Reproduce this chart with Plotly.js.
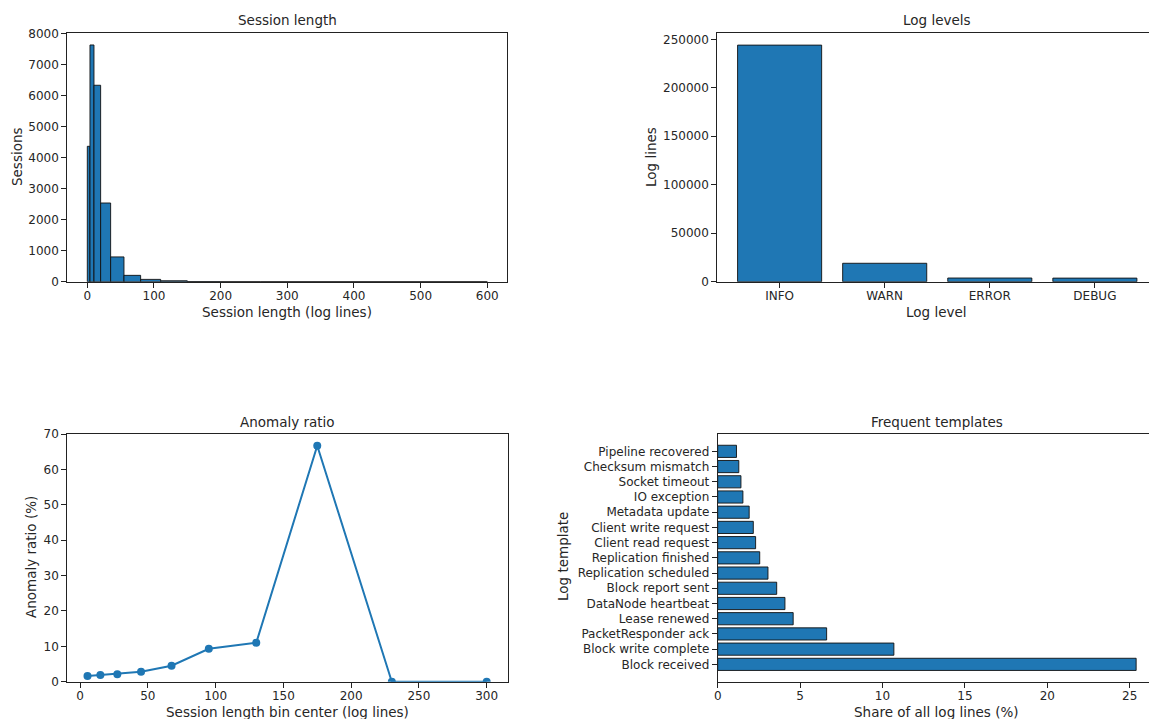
<!DOCTYPE html>
<html>
<head>
<meta charset="utf-8">
<script src="https://cdn.plot.ly/plotly-3.0.1.min.js"></script>
<style>html,body{margin:0;padding:0;background:#fff;}#chart{width:1149px;height:719px;}</style>
</head>
<body>
<div id="chart"></div>
<script>
// ---- Data ----
const sessionBinEdges = [0, 4, 10, 20, 35, 55, 80, 110, 150, 200, 260, 340, 600];
const sessionCounts = [4370, 7640, 6340, 2540, 800, 205, 75, 30, 4, 2, 1, 1];

const logLevels = ["INFO", "WARN", "ERROR", "DEBUG"];
const logLevelCounts = [244000, 19000, 3800, 3700];

const binCenters = [5.5, 15, 27.5, 45, 67.5, 95, 130, 175, 230, 300];
const anomalyPct = [1.6, 1.9, 2.1, 2.8, 4.5, 9.3, 11.0, 66.7, 0, 0];

const templates = ["Block received", "Block write complete", "PacketResponder ack", "Lease renewed",
  "DataNode heartbeat", "Block report sent", "Replication scheduled", "Replication finished",
  "Client read request", "Client write request", "Metadata update", "IO exception",
  "Socket timeout", "Checksum mismatch", "Pipeline recovered"];
const templateShare = [25.39, 10.69, 6.61, 4.58, 4.08, 3.58, 3.05, 2.55, 2.30, 2.16, 1.91, 1.53, 1.41, 1.28, 1.14];

// ---- Styling ----
const W = 1149, H = 719;
const BLUE = "#1f77b4";
const FONT = "DejaVu Sans";
const TXT = "#262626";
const tickFont = {family: FONT, size: 12, color: TXT};
const px = v => v / W;
const py = v => 1 - v / H;

const histCenters = sessionCounts.map((_, i) => (sessionBinEdges[i] + sessionBinEdges[i + 1]) / 2);
const histWidths = sessionCounts.map((_, i) => sessionBinEdges[i + 1] - sessionBinEdges[i]);

const traces = [
  {type: "bar", x: histCenters, y: sessionCounts, width: histWidths, xaxis: "x", yaxis: "y",
   marker: {color: BLUE, line: {color: "#111", width: 0.9}}, hoverinfo: "x+y"},
  {type: "bar", x: logLevels, y: logLevelCounts, width: 0.8, xaxis: "x2", yaxis: "y2",
   marker: {color: BLUE, line: {color: "#111", width: 0.9}}},
  {type: "scatter", mode: "lines+markers", x: binCenters, y: anomalyPct, xaxis: "x3", yaxis: "y3",
   line: {color: BLUE, width: 2}, marker: {color: BLUE, size: 8}},
  {type: "bar", orientation: "h", x: templateShare, y: templates, width: 0.8, xaxis: "x4", yaxis: "y4",
   marker: {color: BLUE, line: {color: "#111", width: 0.9}}}
];

const baseAxis = {
  showgrid: false, zeroline: false, showline: true, linecolor: "#222", linewidth: 1,
  ticks: "outside", ticklen: 5, tickwidth: 1, tickcolor: "#222", tickfont: tickFont
};
const xExtra = {ticklabelstandoff: -2};

const topY = [py(281.7), py(33.3)];
const botY = [py(681.7), py(434)];

const layout = {
  width: W, height: H, margin: {l: 0, r: 0, t: 0, b: 0},
  paper_bgcolor: "#fff", plot_bgcolor: "#fff", showlegend: false,
  font: {family: FONT, color: TXT},
  xaxis: Object.assign({}, baseAxis, xExtra, {domain: [px(67.3), px(507.3)], range: [-30, 630], tickvals: [0,100,200,300,400,500,600], mirror: true, anchor: "y"}),
  yaxis: Object.assign({}, baseAxis, {domain: topY, range: [0, 8017], tickvals: [0,1000,2000,3000,4000,5000,6000,7000,8000], mirror: true, anchor: "x"}),
  xaxis2: Object.assign({}, baseAxis, xExtra, {domain: [px(717.3), 1], type: "category", range: [-0.593, 3.515], mirror: true, anchor: "y2"}),
  yaxis2: Object.assign({}, baseAxis, {domain: topY, range: [0, 256190], tickvals: [0,50000,100000,150000,200000,250000], tickformat: "d", anchor: "x2"}),
  xaxis3: Object.assign({}, baseAxis, xExtra, {domain: [px(67.3), px(507.7)], range: [-9.4, 315.5], tickvals: [0,50,100,150,200,250,300], mirror: true, anchor: "y3"}),
  yaxis3: Object.assign({}, baseAxis, {domain: botY, range: [0, 70], tickvals: [0,10,20,30,40,50,60,70], mirror: true, anchor: "x3"}),
  xaxis4: Object.assign({}, baseAxis, xExtra, {domain: [px(717.7), 1], range: [0, 26.17], tickvals: [0,5,10,15,20,25], mirror: true, anchor: "y4"}),
  yaxis4: Object.assign({}, baseAxis, {domain: botY, type: "category", range: [-1.14, 15.14], anchor: "x4"}),
  annotations: []
};

function label(text, x, y, size, angle) {
  layout.annotations.push({text: text, xref: "paper", yref: "paper", x: px(x), y: py(y),
    xanchor: "center", yanchor: "middle", showarrow: false, textangle: angle || 0,
    font: {family: FONT, size: size, color: TXT}});
}
// titles
label("Session length", 287.3, 20, 13.5);
label("Log levels", 936.7, 20, 13.5);
label("Anomaly ratio", 287.5, 422, 13.5);
label("Frequent templates", 936.7, 422, 13.5);
// axis titles
label("Session length (log lines)", 287.3, 312, 13.5);
label("Sessions", 17, 157, 13.5, -90);
label("Log level", 936.7, 312, 13.5);
label("Log lines", 651, 157, 13.5, -90);
label("Session length bin center (log lines)", 287.5, 712, 13.5);
label("Anomaly ratio (%)", 31, 557, 13.5, -90);
label("Share of all log lines (%)", 936.7, 712, 13.5);
label("Log template", 563, 557, 13.5, -90);

Plotly.newPlot("chart", traces, layout, {staticPlot: true, displayModeBar: false});
</script>
</body>
</html>
